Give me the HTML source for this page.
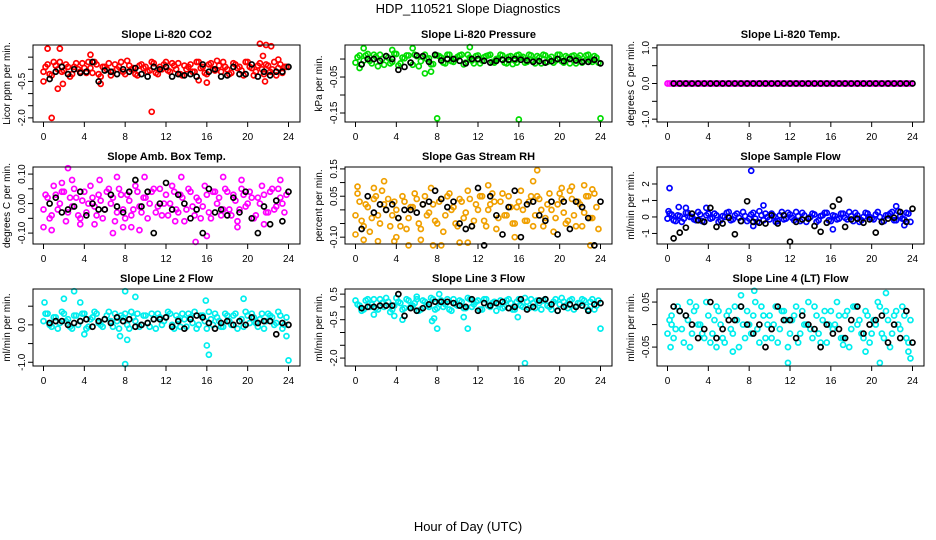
<!DOCTYPE html>
<html><head><meta charset="utf-8"><style>
html,body{margin:0;padding:0;background:#fff}
svg{display:block;font-family:"Liberation Sans",sans-serif}
</style></head><body>
<svg id="chart" width="936" height="540" viewBox="0 0 936 540" xmlns="http://www.w3.org/2000/svg">
<rect x="0" y="0" width="936" height="540" fill="#fff"/>
<text x="468" y="13" text-anchor="middle" font-size="13">HDP_110521  Slope Diagnostics</text>
<text x="468" y="531" text-anchor="middle" font-size="13">Hour of Day (UTC)</text>
</svg>
<script>
// shared hours
const hoursColored=[0.2,0.6,1.0,1.4,1.8,2.2,2.6,3.0,3.4,3.8,4.2,4.6,5.0,5.4,5.8,6.2,6.6,7.0,7.4,7.8,8.2,8.6,9.0,9.4,9.8,10.2,10.6,11.0,11.4,11.8,12.2,12.6,13.0,13.4,13.8,14.2,14.6,15.0,15.4,15.8,16.2,16.6,17.0,17.4,17.8,18.2,18.6,19.0,19.4,19.8,20.2,20.6,21.0,21.4,21.8,22.2,22.6,23.0,23.4,23.8];
const hoursColored2=[0.0,0.4,0.8,1.2,1.6,2.0,2.4,2.8,3.2,3.6,4.0,4.4,4.8,5.2,5.6,6.0,6.4,6.8,7.2,7.6,8.0,8.4,8.8,9.2,9.6,10.0,10.4,10.8,11.2,11.6,12.0,12.4,12.8,13.2,13.6,14.0,14.4,14.8,15.2,15.6,16.0,16.4,16.8,17.2,17.6,18.0,18.4,18.8,19.2,19.6,20.0,20.4,20.8,21.2,21.6,22.0,22.4,22.8,23.2,23.6];
const hoursBlack=[0.6,1.2,1.8,2.4,3.0,3.6,4.2,4.8,5.4,6.0,6.6,7.2,7.8,8.4,9.0,9.6,10.2,10.8,11.4,12.0,12.6,13.2,13.8,14.4,15.0,15.6,16.2,16.8,17.4,18.0,18.6,19.2,19.8,20.4,21.0,21.6,22.2,22.8,23.4,24.0];
const xTicks=[0,4,8,12,16,20,24];

// panel 1: CO2
const co2Colored=[0.1,-0.2,0.3,0.0,-0.1,0.2,-0.3,0.1,0.0,0.25,-0.15,0.05,0.3,-0.2,0.1,0.0,-0.25,0.2,0.1,-0.1,0.35,0.0,-0.2,0.15,0.05,-0.1,0.3,-0.15,0.1,0.2,-0.05,0.25,0.0,-0.2,0.15,0.1,-0.1,0.3,0.05,-0.15,0.2,0.0,0.35,-0.1,0.1,-0.2,0.25,0.05,-0.05,0.3,0.1,-0.25,0.15,0.0,0.2,-0.1,0.3,0.05,-0.15,0.1];
const co2Colored2=[-0.1,0.2,-0.25,0.15,0.3,-0.05,0.1,-0.2,0.25,-0.1,0.05,0.3,-0.15,0.2,-0.3,0.1,0.25,-0.1,0.0,0.3,-0.2,0.15,0.05,-0.25,0.2,0.1,-0.05,0.25,-0.2,0.0,0.3,-0.1,0.15,0.25,-0.25,0.0,0.2,-0.1,0.3,0.1,-0.2,0.25,-0.05,0.15,0.3,0.0,-0.15,0.2,0.1,-0.25,0.3,0.05,-0.1,0.25,-0.2,0.15,0.0,-0.25,0.2,0.1];
const co2OutH=[0.0,0.4,0.8,1.6,1.4,1.9,5.6,10.6,16.0,21.2,21.8,22.3,21.7,21.5,15.2,4.6,23.0];
const co2OutV=[-0.5,0.85,-2.0,0.85,-0.8,-0.6,-0.6,-1.75,-0.55,1.05,1.0,0.95,-0.5,0.55,-0.45,0.6,0.4];
const co2Black=[-0.4,-0.1,0.1,-0.2,0.0,-0.15,-0.1,0.3,-0.5,-0.05,-0.1,-0.2,0.0,-0.1,0.05,-0.2,-0.3,0.1,0.0,0.1,-0.3,-0.2,-0.25,-0.2,-0.3,0.2,-0.1,0.0,-0.3,-0.25,0.1,-0.2,-0.2,0.2,-0.3,-0.1,-0.25,-0.1,-0.1,0.1];
// panel 2: pressure
const presColored=[0.005,-0.015,0.01,-0.005,0.012,-0.02,0.0,0.008,-0.012,0.015,-0.018,0.004,0.01,-0.01,0.012,-0.02,0.006,0.0,-0.015,0.01,0.008,-0.01,0.012,-0.006,0.0,0.01,-0.015,0.012,-0.004,0.008,-0.012,0.005,0.01,-0.008,0.0,0.012,-0.01,0.006,-0.014,0.01,0.004,-0.01,0.012,-0.005,0.008,-0.012,0.01,0.0,-0.01,0.012,-0.006,0.008,-0.012,0.01,0.004,-0.01,0.01,-0.004,0.008,-0.01];
const presColored2=[-0.01,0.01,-0.004,0.014,-0.012,0.006,0.012,-0.016,0.004,-0.008,0.014,-0.012,0.002,0.01,-0.016,0.008,-0.006,0.012,0.002,-0.014,0.01,0.004,-0.012,0.012,-0.008,0.006,0.012,-0.01,0.004,-0.012,0.01,-0.004,0.008,0.012,-0.01,0.002,0.01,-0.012,0.008,-0.004,0.012,0.006,-0.008,0.01,-0.012,0.004,0.012,-0.008,0.006,-0.004,0.012,-0.01,0.004,0.008,-0.012,0.01,-0.006,0.012,-0.008,0.004];
const presOutH=[0.8,5.6,11.2,3.6,6.8,7.4,8.0,16.0,24.0,0.4,15.8];
const presOutV=[0.03,0.03,0.033,0.025,-0.04,-0.035,-0.165,-0.168,-0.165,-0.025,-0.01];
const presBlack=[-0.015,0.0,0.0,-0.005,0.008,0.0,-0.03,-0.022,-0.01,0.01,0.008,-0.008,0.012,-0.004,0.0,0.0,-0.005,-0.012,0.0,0.0,-0.005,-0.01,-0.005,-0.002,-0.002,0.0,-0.002,-0.004,-0.008,-0.006,-0.01,-0.006,0.0,-0.006,0.0,-0.004,-0.008,-0.008,-0.002,-0.012];
// panel 3: Li-820 temp
const tempColored=[0,0,0,0,0,0,0,0,0,0,0,0,0,0,0,0,0,0,0,0,0,0,0,0,0,0,0,0,0,0,0,0,0,0,0,0,0,0,0,0,0,0,0,0,0,0,0,0,0,0,0,0,0,0,0,0,0,0,0,0];
const tempColored2=[0,0,0,0,0,0,0,0,0,0,0,0,0,0,0,0,0,0,0,0,0,0,0,0,0,0,0,0,0,0,0,0,0,0,0,0,0,0,0,0,0,0,0,0,0,0,0,0,0,0,0,0,0,0,0,0,0,0,0,0];
const tempOutH=[];
const tempOutV=[];
const tempBlack=[0,0,0,0,0,0,0,0,0,0,0,0,0,0,0,0,0,0,0,0,0,0,0,0,0,0,0,0,0,0,0,0,0,0,0,0,0,0,0,0];
// panel 4: amb box temp
const ambColored=[0.03,-0.05,0.06,-0.02,0.04,-0.06,0.02,0.05,-0.04,0.01,-0.03,0.06,-0.01,0.03,-0.05,0.04,0.0,-0.06,0.05,-0.02,0.03,-0.04,0.06,-0.01,0.02,-0.05,0.04,-0.03,0.05,0.0,-0.04,0.06,-0.02,0.03,-0.06,0.05,-0.01,0.02,-0.05,0.06,-0.03,0.04,0.0,-0.04,0.05,-0.02,0.03,-0.06,0.05,-0.01,0.04,-0.05,0.02,0.06,-0.03,0.04,-0.02,0.05,0.0,0.03];
const ambColored2=[-0.02,0.02,-0.04,0.03,0.0,0.04,-0.03,-0.01,0.02,-0.05,0.04,0.0,0.02,-0.04,0.01,-0.02,0.05,0.02,-0.03,0.03,-0.05,0.01,-0.02,0.04,-0.03,0.02,0.0,0.05,-0.01,-0.04,0.03,0.0,0.04,-0.03,0.02,-0.02,0.04,-0.04,0.01,-0.01,0.03,-0.05,0.04,0.02,-0.02,0.04,-0.04,0.01,-0.02,0.03,0.0,0.02,-0.04,0.0,0.03,-0.03,0.05,-0.01,0.02,-0.03];
const ambOutH=[0.0,0.8,1.8,2.4,2.8,3.6,5.5,6.8,7.2,7.8,8.6,9.4,9.9,13.5,14.9,16.0,17.6,19.0,19.4,21.6,23.2,12.9,5.0];
const ambOutV=[-0.08,-0.09,0.07,0.12,0.08,-0.07,0.08,-0.1,0.09,-0.08,-0.08,-0.09,0.09,0.09,-0.13,-0.11,0.09,-0.08,0.08,-0.07,0.08,-0.06,-0.07];
const ambBlack=[0.0,0.02,-0.03,-0.02,-0.01,0.04,-0.04,0.0,-0.02,-0.02,0.03,-0.01,-0.03,0.04,0.08,-0.01,0.04,-0.1,0.0,0.07,-0.02,0.03,0.0,-0.05,-0.02,-0.1,0.05,-0.03,-0.02,-0.04,0.02,-0.03,0.04,-0.05,-0.1,-0.01,-0.07,0.01,-0.06,0.04];
// panel 5: gas stream RH
const rhColored=[0.06,-0.04,0.02,-0.08,0.04,-0.02,0.07,0.0,-0.06,0.03,-0.03,0.05,-0.07,0.01,0.06,-0.05,0.02,-0.02,0.08,-0.04,0.03,-0.08,0.05,0.0,-0.05,0.04,-0.03,0.07,-0.06,0.02,0.05,-0.04,0.0,0.06,-0.07,0.03,-0.02,0.05,-0.05,0.01,0.07,-0.04,0.03,-0.06,0.05,0.0,-0.03,0.06,-0.08,0.02,0.04,-0.05,0.07,-0.02,0.03,-0.06,0.05,-0.03,0.06,-0.07];
const rhColored2=[-0.02,0.03,-0.06,0.01,-0.03,0.05,-0.05,0.02,0.04,-0.02,0.0,-0.06,0.03,-0.03,0.01,0.04,-0.07,0.05,-0.01,0.02,-0.05,0.04,-0.02,0.06,0.01,-0.06,0.03,-0.01,0.04,-0.04,0.0,0.05,-0.06,0.02,0.03,-0.03,0.06,-0.02,0.01,-0.05,0.03,0.0,-0.04,0.05,-0.02,0.04,-0.06,0.02,0.0,-0.03,0.06,-0.01,-0.04,0.04,-0.06,0.02,-0.01,0.05,-0.03,0.01];
const rhOutH=[0.0,0.2,0.8,1.8,2.2,2.8,3.8,5.2,6.4,7.6,8.4,10.2,11.0,13.0,15.6,17.4,17.8,20.2,21.2,22.4,23.2,23.0,4.0];
const rhOutV=[-0.09,0.085,-0.11,0.08,-0.115,0.105,-0.115,-0.13,-0.11,-0.13,-0.13,-0.12,-0.12,0.09,-0.1,0.105,0.145,0.08,0.085,0.09,0.075,-0.13,-0.1];
const rhBlack=[-0.07,0.05,-0.01,0.02,0.0,0.02,-0.03,0.0,0.0,-0.01,0.02,0.03,0.07,0.04,0.01,0.03,-0.05,-0.07,-0.06,0.08,-0.13,0.05,-0.02,-0.09,0.01,0.07,-0.1,0.02,0.03,-0.02,-0.04,0.03,-0.09,0.03,-0.07,0.03,0.01,-0.03,-0.13,0.03];
// panel 6: sample flow
const sfColored=[0.2,-0.2,0.1,-0.3,0.25,0.0,-0.15,0.3,-0.25,0.1,-0.1,0.2,-0.3,0.05,0.25,-0.2,0.1,-0.05,0.3,-0.25,0.15,-0.1,0.35,-0.2,0.0,0.2,-0.3,0.1,-0.15,0.25,-0.05,0.3,-0.25,0.1,-0.1,0.2,-0.3,0.05,0.25,-0.2,0.1,-0.15,0.2,-0.05,0.3,-0.25,0.1,-0.2,0.25,0.0,-0.15,0.3,-0.3,0.1,0.2,-0.2,0.35,-0.1,0.25,-0.3];
const sfColored2=[-0.1,0.15,-0.25,0.05,-0.1,0.25,0.0,-0.2,0.15,-0.3,0.2,-0.05,0.1,-0.2,0.0,0.3,-0.15,0.2,-0.25,0.05,-0.1,0.25,-0.3,0.1,0.2,-0.15,0.05,-0.25,0.3,-0.1,0.15,-0.2,0.05,0.25,-0.3,0.0,0.15,-0.2,0.1,0.25,-0.25,0.05,-0.1,0.2,-0.15,0.05,0.25,-0.3,0.0,0.2,-0.1,0.15,0.0,-0.25,0.1,0.3,-0.2,0.05,-0.15,0.2];
const sfOutH=[0.2,0.1,1.1,1.8,8.2,9.4,16.2,22.4,23.2,8.4,3.8];
const sfOutV=[1.75,0.35,0.6,0.55,2.8,0.7,-0.75,0.65,-0.5,-0.55,0.55];
const sfBlack=[-1.3,-0.95,-0.65,0.2,-0.2,-0.3,0.55,-0.6,-0.4,-0.05,-1.05,-0.25,0.95,-0.3,-0.35,-0.4,0.1,-0.4,0.1,-1.5,-0.3,-0.15,-0.1,-0.55,-0.9,-0.35,0.65,1.05,-0.6,-0.15,-0.1,-0.35,-0.15,-0.95,-0.3,-0.1,-0.05,0.3,-0.3,0.5];
// panel 7: line 2 flow
const l2Colored=[0.3,0.0,0.2,-0.1,0.35,0.1,-0.05,0.25,0.0,0.3,-0.1,0.15,0.35,0.05,-0.05,0.25,0.1,0.3,-0.1,0.2,0.0,0.35,0.1,-0.05,0.25,0.05,0.3,-0.1,0.2,0.1,0.35,0.0,0.25,-0.05,0.15,0.3,0.05,-0.1,0.25,0.1,0.35,0.0,0.2,-0.05,0.3,0.1,0.25,-0.1,0.15,0.35,0.05,0.2,-0.05,0.3,0.1,0.25,0.0,0.35,-0.1,0.2];
const l2Colored2=[0.1,0.3,-0.05,0.2,0.05,0.3,0.15,-0.1,0.25,0.1,0.3,-0.05,0.2,0.3,0.0,0.15,0.35,-0.05,0.1,0.25,0.3,-0.1,0.2,0.3,0.0,0.25,-0.05,0.15,0.3,0.0,0.2,0.3,-0.1,0.15,0.3,-0.05,0.2,0.35,0.0,0.25,-0.1,0.15,0.3,0.1,-0.05,0.25,0.0,0.3,0.1,-0.05,0.25,0.3,0.05,0.15,-0.1,0.3,0.2,0.05,0.25,0.0];
const l2OutH=[0.1,2.0,3.0,3.6,8.0,8.0,8.2,9.0,15.9,16.0,16.2,19.6,24.0,23.8,4.0,7.5];
const l2OutV=[0.6,0.7,0.9,0.6,0.9,-1.05,-0.4,0.75,0.65,-0.55,-0.8,0.7,-0.95,-0.3,-0.25,-0.3];
const l2Black=[0.05,0.1,0.1,0.0,0.05,0.1,0.15,-0.05,0.1,0.15,0.05,0.2,0.1,0.15,-0.05,0.0,0.05,0.15,0.15,0.2,-0.05,0.1,-0.1,0.15,0.25,0.2,0.05,-0.1,0.05,0.1,0.0,0.1,0.0,0.2,0.05,0.1,0.1,-0.25,0.05,0.0];
// panel 8: line 3 flow
const l3Colored=[0.1,-0.15,0.25,0.0,0.3,-0.1,0.15,0.35,-0.2,0.05,0.2,-0.1,0.3,0.0,0.15,-0.15,0.25,0.05,0.35,-0.1,0.2,0.0,0.3,-0.15,0.1,0.25,-0.05,0.35,0.0,0.2,-0.1,0.3,0.05,0.15,-0.15,0.25,0.0,0.3,-0.1,0.2,0.05,0.35,-0.05,0.15,0.25,-0.1,0.3,0.0,0.2,-0.15,0.35,0.05,0.25,-0.1,0.15,0.3,0.0,0.2,-0.1,0.25];
const l3Colored2=[0.25,0.05,-0.1,0.3,0.1,-0.05,0.3,0.0,0.2,-0.1,0.35,0.15,-0.05,0.25,0.05,0.3,-0.1,0.2,0.0,0.3,-0.05,0.25,0.1,-0.1,0.3,0.05,0.2,-0.05,0.3,0.1,0.25,-0.1,0.3,0.0,0.2,0.1,-0.05,0.25,0.15,-0.1,0.3,0.0,0.2,0.3,-0.05,0.15,0.25,0.05,-0.1,0.3,0.1,0.2,-0.05,0.3,0.0,0.15,0.25,-0.1,0.3,0.05];
const l3OutH=[1.8,3.8,4.6,7.5,7.7,8.0,8.2,10.6,11.0,15.9,16.6,24.0,6.0];
const l3OutV=[-0.3,-0.35,-0.5,-0.55,-0.45,-0.85,0.5,-0.4,-0.85,-0.4,-2.2,-0.85,0.4];
const l3Black=[-0.05,0.0,0.0,0.05,0.05,0.05,0.5,-0.35,-0.05,-0.15,-0.05,0.1,0.2,0.2,0.2,0.15,0.05,0.0,0.3,-0.15,0.15,0.05,0.15,0.2,-0.05,0.0,0.3,-0.1,0.0,0.25,0.3,0.1,-0.15,0.0,0.1,0.0,0.05,-0.15,0.1,0.15];
// panel 9: line 4 (LT) flow
const l4Colored=[0.01,-0.03,0.04,-0.01,0.02,-0.05,0.03,0.0,-0.02,0.05,-0.04,0.01,0.03,-0.03,0.02,-0.01,0.04,-0.05,0.0,0.03,-0.02,0.05,-0.04,0.02,0.0,-0.03,0.04,-0.01,0.03,-0.05,0.01,0.04,-0.02,0.0,0.05,-0.03,0.02,-0.04,0.03,0.0,-0.01,0.05,-0.03,0.02,-0.05,0.04,0.0,-0.02,0.03,-0.04,0.01,0.05,-0.02,0.03,-0.05,0.02,0.0,0.04,-0.03,0.01];
const l4Colored2=[-0.02,0.02,-0.01,0.03,-0.04,0.01,-0.02,0.04,0.0,-0.03,0.02,-0.02,0.04,0.0,-0.04,0.03,-0.02,0.01,0.04,-0.03,0.0,0.02,-0.01,0.04,-0.03,0.02,0.0,-0.04,0.03,0.01,-0.02,0.02,-0.04,0.03,0.0,-0.01,0.04,-0.02,0.01,-0.04,0.03,0.0,0.02,-0.03,0.03,-0.01,0.04,0.01,-0.03,0.02,-0.02,0.0,0.04,-0.03,0.01,-0.02,0.03,-0.01,0.02,-0.04];
const l4OutH=[0.3,2.2,6.4,7.2,8.5,11.8,17.2,19.4,20.8,21.4,23.6,23.8,0.4,4.8];
const l4OutV=[-0.05,0.05,-0.06,0.065,0.075,-0.085,-0.045,-0.06,-0.085,0.07,-0.06,-0.075,0.0,-0.05];
const l4Black=[0.04,0.03,0.02,0.0,-0.03,-0.01,0.05,-0.03,-0.01,0.01,0.01,0.04,0.0,-0.02,0.0,-0.05,-0.01,0.04,0.01,0.01,-0.03,0.02,0.0,-0.01,-0.05,0.0,-0.02,-0.01,-0.03,0.01,0.04,-0.02,0.0,0.01,0.02,-0.04,0.0,-0.03,0.03,-0.04];

const panels=[
 {name:'co2',title:'Slope Li-820 CO2',ylab:'Licor ppm per min.',col:0,row:0,dom:[1.0,-2.17],ticks:[0.5,0,-0.5,-1,-1.5,-2],labels:['','','-0.5','','','-2.0'],color:'#ff0000',c:co2Colored,c2:co2Colored2,oh:co2OutH,ov:co2OutV,b:co2Black},
 {name:'pressure',title:'Slope Li-820 Pressure',ylab:'kPa per min.',col:1,row:0,dom:[0.039,-0.175],ticks:[0,-0.05,-0.1,-0.15],labels:['','-0.05','','-0.15'],color:'#00dd00',c:presColored,c2:presColored2,oh:presOutH,ov:presOutV,b:presBlack},
 {name:'li820-temp',title:'Slope Li-820 Temp.',ylab:'degrees C per min.',col:2,row:0,dom:[1.08,-1.08],ticks:[1,0.5,0,-0.5,-1],labels:['1.0','','0.0','','-1.0'],color:'#ff00ff',c:tempColored,c2:tempColored2,oh:tempOutH,ov:tempOutV,b:tempBlack},
 {name:'amb-box-temp',title:'Slope Amb. Box Temp.',ylab:'degrees C per min.',col:0,row:1,dom:[0.124,-0.137],ticks:[0.1,0.05,0,-0.05,-0.1],labels:['0.10','','0.00','','-0.10'],color:'#ff00ff',c:ambColored,c2:ambColored2,oh:ambOutH,ov:ambOutV,b:ambBlack},
 {name:'gas-stream-rh',title:'Slope Gas Stream RH',ylab:'percent per min.',col:1,row:1,dom:[0.157,-0.125],ticks:[0.15,0.1,0.05,0,-0.05,-0.1],labels:['0.15','','0.05','','','-0.10'],color:'#f0a000',c:rhColored,c2:rhColored2,oh:rhOutH,ov:rhOutV,b:rhBlack},
 {name:'sample-flow',title:'Slope Sample Flow',ylab:'ml/min per min.',col:2,row:1,dom:[3.03,-1.64],ticks:[2,1,0,-1],labels:['2','1','0','-1'],color:'#0000ff',c:sfColored,c2:sfColored2,oh:sfOutH,ov:sfOutV,b:sfBlack},
 {name:'line2-flow',title:'Slope Line 2 Flow',ylab:'ml/min per min.',col:0,row:2,dom:[0.96,-1.1],ticks:[0.5,0,-0.5,-1],labels:['','0.0','','-1.0'],color:'#00eeee',c:l2Colored,c2:l2Colored2,oh:l2OutH,ov:l2OutV,b:l2Black},
 {name:'line3-flow',title:'Slope Line 3 Flow',ylab:'ml/min per min.',col:1,row:2,dom:[0.70,-2.31],ticks:[0.5,0,-0.5,-1,-1.5,-2],labels:['0.5','','-0.5','','','-2.0'],color:'#00eeee',c:l3Colored,c2:l3Colored2,oh:l3OutH,ov:l3OutV,b:l3Black},
 {name:'line4-flow',title:'Slope Line 4 (LT) Flow',ylab:'ml/min per min.',col:2,row:2,dom:[0.079,-0.092],ticks:[0.05,0,-0.05],labels:['0.05','','-0.05'],color:'#00eeee',c:l4Colored,c2:l4Colored2,oh:l4OutH,ov:l4OutV,b:l4Black}
];

const NS='http://www.w3.org/2000/svg';
const svg=document.getElementById('chart');
function mk(tag,attrs,parent){const e=document.createElementNS(NS,tag);for(const k in attrs)e.setAttribute(k,attrs[k]);(parent||svg).appendChild(e);return e;}
const colX=[33,345,657],rowY=[45,167,289],W=267,H=77;

panels.forEach(p=>{
  const L=colX[p.col],T=rowY[p.row],R=L+W,B=T+H;
  const g=mk('g',{});
  
  
  const xs=h=>L+10.5+h*(W-22)/24;
  const ys=v=>T+(p.dom[0]-v)/(p.dom[0]-p.dom[1])*H;
  const t=mk('text',{x:(L+R)/2,y:T-7,'text-anchor':'middle','font-size':11,'font-weight':'bold'},g);
  t.textContent=p.title;
  
  
  const yl=mk('text',{x:0,y:0,'text-anchor':'middle','font-size':10,transform:`translate(${L-23},${T+H/2}) rotate(-90)`},g);
  yl.textContent=p.ylab;
  
  
  const pts=mk('g',{fill:'none','stroke-width':1.7},g);
  
  
  p.c.forEach((v,i)=>{
    const c=mk('circle',{cx:xs(hoursColored[i]),cy:ys(v),r:2.5,stroke:p.color},pts);
    
    
  });
  p.c2.forEach((v,i)=>{
    const c=mk('circle',{cx:xs(hoursColored2[i]),cy:ys(v),r:2.5,stroke:p.color},pts);
    
    
  });
  p.oh.forEach((h,i)=>{
    const c=mk('circle',{cx:xs(h),cy:ys(p.ov[i]),r:2.5,stroke:p.color},pts);
    
    
  });
  p.b.forEach((v,i)=>{
    const c=mk('circle',{cx:xs(hoursBlack[i]),cy:ys(v),r:2.5,stroke:'#000'},pts);
    
    
  });
  const box=mk('rect',{x:L,y:T,width:W,height:H,fill:'none',stroke:'#000','stroke-width':1},g);
  
  
  xTicks.forEach(h=>{
    mk('line',{x1:xs(h),x2:xs(h),y1:B,y2:B+5,stroke:'#000'},g);
    const tl=mk('text',{x:xs(h),y:B+18,'text-anchor':'middle','font-size':10},g);
    tl.textContent=h;
    
    
  });
  p.ticks.forEach((v,i)=>{
    mk('line',{x1:L-5,x2:L,y1:ys(v),y2:ys(v),stroke:'#000'},g);
    if(p.labels[i]){
      const tl=mk('text',{x:0,y:0,'text-anchor':'middle','font-size':10,transform:`translate(${L-8},${ys(v)}) rotate(-90)`},g);
      tl.textContent=p.labels[i];
      
      
    }
  });
});
</script>
</body></html>
